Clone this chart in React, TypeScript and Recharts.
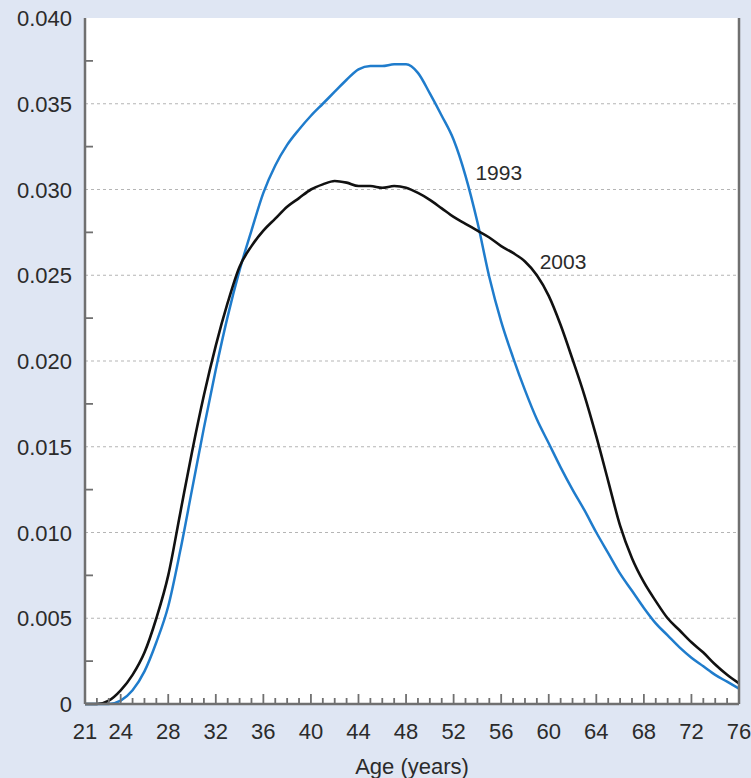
import { LineChart, Line, XAxis, YAxis, CartesianGrid, ReferenceLine, ReferenceDot } from 'recharts';

const AGES = [
  21, 22, 23, 24, 25, 26, 27, 28, 29, 30, 31, 32, 33, 34, 35, 36, 37, 38, 39, 40,
  41, 42, 43, 44, 45, 46, 47, 48, 49, 50, 51, 52, 53, 54, 55, 56, 57, 58, 59, 60,
  61, 62, 63, 64, 65, 66, 67, 68, 69, 70, 71, 72, 73, 74, 75, 76,
];

const V1993 = [
  0, 0, 0, 0.0002, 0.0008, 0.0019, 0.0036, 0.0057, 0.0089, 0.0125,
  0.0161, 0.0195, 0.0226, 0.0253, 0.0276, 0.0298, 0.0314, 0.0326, 0.0335, 0.0343,
  0.035, 0.0357, 0.0364, 0.037, 0.0372, 0.0372, 0.0373, 0.0373, 0.0368, 0.0356,
  0.0343, 0.0329, 0.0308, 0.0281, 0.0249, 0.0223, 0.0202, 0.0183, 0.0166, 0.0152,
  0.0138, 0.0125, 0.0113, 0.01, 0.0088, 0.0076, 0.0066, 0.0056, 0.0047, 0.004,
  0.0033, 0.0027, 0.0022, 0.0017, 0.0013, 0.0009,
];

const V2003 = [
  0, 0, 0.0002, 0.0008, 0.0017, 0.003, 0.005, 0.0075, 0.0111, 0.0147,
  0.018, 0.0209, 0.0234, 0.0255, 0.0267, 0.0276, 0.0283, 0.029, 0.0295, 0.03,
  0.0303, 0.0305, 0.0304, 0.0302, 0.0302, 0.0301, 0.0302, 0.0301, 0.0298, 0.0294,
  0.0289, 0.0284, 0.028, 0.0276, 0.0272, 0.0267, 0.0263, 0.0258, 0.025, 0.0238,
  0.0221, 0.0201, 0.018, 0.0156, 0.013, 0.0104, 0.0085, 0.0071, 0.006, 0.005,
  0.0043, 0.0036, 0.003, 0.0023, 0.0017, 0.0012,
];

const X_LABELS = [21, 24, 28, 32, 36, 40, 44, 48, 52, 56, 60, 64, 68, 72, 76];
const Y_TICKS = [
  0, 0.0025, 0.005, 0.0075, 0.01, 0.0125, 0.015, 0.0175, 0.02, 0.0225,
  0.025, 0.0275, 0.03, 0.0325, 0.035, 0.0375, 0.04,
];
const Y_LABELS = [0, 0.005, 0.01, 0.015, 0.02, 0.025, 0.03, 0.035, 0.04];
const Y_MINOR = [0.0025, 0.0075, 0.0125, 0.0175, 0.0225, 0.0275, 0.0325, 0.0375];
const GRID_Y = [0.005, 0.01, 0.015, 0.02, 0.025, 0.03, 0.035];

const data = AGES.map((age, i) => ({ age, y1993: V1993[i], y2003: V2003[i] }));

const FONT = '"Liberation Sans", Arial, sans-serif';
const AXIS = '#707070';
const TEXT = '#2b2b2b';

const XTick = (props: any) => {
  const { x, y, payload } = props;
  const v = payload.value;
  const labeled = X_LABELS.includes(v);
  const edge = v === 21 || v === 76;
  return (
    <g>
      {!edge && (
        <line x1={x} x2={x} y1={y} y2={y - (labeled ? 10 : 6)} stroke={AXIS} strokeWidth={1.8} />
      )}
      {labeled && (
        <text x={x} y={y + 35} textAnchor="middle" fill={TEXT} fontSize={22} fontFamily={FONT}>
          {v}
        </text>
      )}
    </g>
  );
};

const YTick = (props: any) => {
  const { x, y, payload } = props;
  const v = payload.value;
  const labeled = Y_LABELS.includes(v);
  return (
    <g>
      {labeled ? (
        <text x={x - 13} y={y + 8} textAnchor="end" fill={TEXT} fontSize={22} fontFamily={FONT}>
          {v === 0 ? '0' : v.toFixed(3)}
        </text>
      ) : (
        <line x1={x} x2={x + 8} y1={y} y2={y} stroke={AXIS} strokeWidth={1.8} />
      )}
    </g>
  );
};

const RightTick = (props: any) => {
  const { x, y } = props;
  return <line x1={x} x2={x - 8} y1={y} y2={y} stroke={AXIS} strokeWidth={1.8} />;
};

export default function App() {
  return (
    <div style={{ position: 'absolute', left: 0, top: 0, width: 751, height: 778, background: '#dfe6f3' }}>
      <LineChart width={751} height={778} data={data} margin={{ top: 18, right: 0, bottom: 0, left: 0 }}>
        <CartesianGrid fill="#ffffff" horizontal={false} vertical={false} />
        <XAxis
          dataKey="age"
          type="number"
          domain={[21, 76]}
          ticks={AGES}
          interval={0}
          height={74}
          tickSize={0}
          tickMargin={0}
          tickLine={false}
          axisLine={{ stroke: AXIS, strokeWidth: 2.5 }}
          tick={XTick}
          label={{ value: 'Age (years)', position: 'insideBottom', offset: 4, fill: TEXT, fontSize: 22, fontFamily: FONT }}
        />
        <XAxis
          xAxisId="top"
          orientation="top"
          type="number"
          domain={[21, 76]}
          height={0}
          tick={false}
          tickLine={false}
          axisLine={{ stroke: AXIS, strokeWidth: 2.5 }}
        />
        <YAxis
          type="number"
          domain={[0, 0.04]}
          ticks={Y_TICKS}
          interval={0}
          width={85}
          tickSize={0}
          tickMargin={0}
          tickLine={false}
          axisLine={{ stroke: AXIS, strokeWidth: 2.5 }}
          tick={YTick}
        />
        <YAxis
          yAxisId="right"
          orientation="right"
          type="number"
          domain={[0, 0.04]}
          ticks={Y_MINOR}
          interval={0}
          width={12}
          tickSize={0}
          tickMargin={0}
          tickLine={false}
          axisLine={{ stroke: AXIS, strokeWidth: 2.5 }}
          tick={RightTick}
        />
        {GRID_Y.map((v) => (
          <ReferenceLine key={v} y={v} stroke="#b5b5b5" strokeWidth={1.2} strokeDasharray="3 3" />
        ))}
        <Line
          type="monotone"
          dataKey="y1993"
          stroke="#1f7ccc"
          strokeWidth={2.5}
          dot={false}
          isAnimationActive={false}
        />
        <Line
          type="monotone"
          dataKey="y2003"
          stroke="#111111"
          strokeWidth={2.6}
          dot={false}
          isAnimationActive={false}
        />
        <ReferenceDot
          x={55.8}
          y={0.031}
          r={0}
          fill="none"
          stroke="none"
          label={{ value: '1993', position: 'center', fill: TEXT, fontSize: 21, fontFamily: FONT }}
        />
        <ReferenceDot
          x={61.2}
          y={0.0258}
          r={0}
          fill="none"
          stroke="none"
          label={{ value: '2003', position: 'center', fill: TEXT, fontSize: 21, fontFamily: FONT }}
        />
      </LineChart>
    </div>
  );
}
